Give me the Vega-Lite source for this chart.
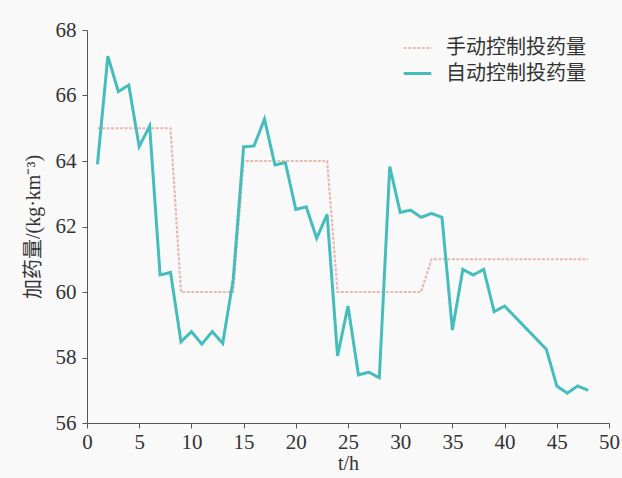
{
  "$schema": "https://vega.github.io/schema/vega-lite/v6.json",
  "autosize": "none",
  "width": 522,
  "height": 393,
  "padding": {"left": 87, "top": 30, "right": 13, "bottom": 55},
  "background": "#f9f9f9",
  "config": {
    "view": {"stroke": null},
    "font": "Liberation Serif"
  },
  "data": {
    "values": [
      {"t": 1, "v": 65, "s": "手动控制投药量"},
      {"t": 8, "v": 65, "s": "手动控制投药量"},
      {"t": 9, "v": 60, "s": "手动控制投药量"},
      {"t": 14, "v": 60, "s": "手动控制投药量"},
      {"t": 15, "v": 64, "s": "手动控制投药量"},
      {"t": 23, "v": 64, "s": "手动控制投药量"},
      {"t": 24, "v": 60, "s": "手动控制投药量"},
      {"t": 32, "v": 60, "s": "手动控制投药量"},
      {"t": 33, "v": 61, "s": "手动控制投药量"},
      {"t": 48, "v": 61, "s": "手动控制投药量"},
      {"t": 1, "v": 63.9, "s": "自动控制投药量"},
      {"t": 2, "v": 67.2, "s": "自动控制投药量"},
      {"t": 3, "v": 66.12, "s": "自动控制投药量"},
      {"t": 4, "v": 66.32, "s": "自动控制投药量"},
      {"t": 5, "v": 64.44, "s": "自动控制投药量"},
      {"t": 6, "v": 65.07, "s": "自动控制投药量"},
      {"t": 7, "v": 60.52, "s": "自动控制投药量"},
      {"t": 8, "v": 60.6, "s": "自动控制投药量"},
      {"t": 9, "v": 58.48, "s": "自动控制投药量"},
      {"t": 10, "v": 58.79, "s": "自动控制投药量"},
      {"t": 11, "v": 58.41, "s": "自动控制投药量"},
      {"t": 12, "v": 58.79, "s": "自动控制投药量"},
      {"t": 13, "v": 58.43, "s": "自动控制投药量"},
      {"t": 14, "v": 60.37, "s": "自动控制投药量"},
      {"t": 15, "v": 64.43, "s": "自动控制投药量"},
      {"t": 16, "v": 64.46, "s": "自动控制投药量"},
      {"t": 17, "v": 65.28, "s": "自动控制投药量"},
      {"t": 18, "v": 63.88, "s": "自动控制投药量"},
      {"t": 19, "v": 63.95, "s": "自动控制投药量"},
      {"t": 20, "v": 62.52, "s": "自动控制投药量"},
      {"t": 21, "v": 62.6, "s": "自动控制投药量"},
      {"t": 22, "v": 61.64, "s": "自动控制投药量"},
      {"t": 23, "v": 62.37, "s": "自动控制投药量"},
      {"t": 24, "v": 58.05, "s": "自动控制投药量"},
      {"t": 25, "v": 59.57, "s": "自动控制投药量"},
      {"t": 26, "v": 57.47, "s": "自动控制投药量"},
      {"t": 27, "v": 57.55, "s": "自动控制投药量"},
      {"t": 28, "v": 57.38, "s": "自动控制投药量"},
      {"t": 29, "v": 63.83, "s": "自动控制投药量"},
      {"t": 30, "v": 62.43, "s": "自动控制投药量"},
      {"t": 31, "v": 62.5, "s": "自动控制投药量"},
      {"t": 32, "v": 62.28, "s": "自动控制投药量"},
      {"t": 33, "v": 62.4, "s": "自动控制投药量"},
      {"t": 34, "v": 62.28, "s": "自动控制投药量"},
      {"t": 35, "v": 58.84, "s": "自动控制投药量"},
      {"t": 36, "v": 60.69, "s": "自动控制投药量"},
      {"t": 37, "v": 60.52, "s": "自动控制投药量"},
      {"t": 38, "v": 60.69, "s": "自动控制投药量"},
      {"t": 39, "v": 59.4, "s": "自动控制投药量"},
      {"t": 40, "v": 59.57, "s": "自动控制投药量"},
      {"t": 44, "v": 58.25, "s": "自动控制投药量"},
      {"t": 45, "v": 57.13, "s": "自动控制投药量"},
      {"t": 46, "v": 56.91, "s": "自动控制投药量"},
      {"t": 47, "v": 57.13, "s": "自动控制投药量"},
      {"t": 48, "v": 57.0, "s": "自动控制投药量"}
    ]
  },
  "mark": {"type": "line", "interpolate": "linear"},
  "encoding": {
    "x": {
      "field": "t", "type": "quantitative",
      "scale": {"domain": [0, 50], "nice": false, "zero": false},
      "axis": {
        "values": [0, 5, 10, 15, 20, 25, 30, 35, 40, 45, 50],
        "title": "t/h",
        "titleFont": "Liberation Serif", "titleFontSize": 20, "titleFontWeight": "normal",
        "titleColor": "#333", "titlePadding": 1,
        "labelFont": "Liberation Serif", "labelFontSize": 21, "labelColor": "#333",
        "labelPadding": 3,
        "grid": false, "domainColor": "#555", "tickColor": "#555", "tickSize": 5,
        "labelFlush": false
      }
    },
    "y": {
      "field": "v", "type": "quantitative",
      "scale": {"domain": [56, 68], "nice": false, "zero": false},
      "axis": {
        "values": [56, 58, 60, 62, 64, 66, 68],
        "title": "加药量/(kg·km⁻³)",
        "titleFont": "Liberation Serif, Noto Sans CJK SC", "titleFontSize": 20, "titleFontWeight": "normal",
        "titleColor": "#333", "titlePadding": 12,
        "labelFont": "Liberation Serif", "labelFontSize": 21, "labelColor": "#333",
        "labelPadding": 6,
        "grid": false, "domainColor": "#555", "tickColor": "#555", "tickSize": 5,
        "labelFlush": false
      }
    },
    "color": {
      "field": "s", "type": "nominal",
      "scale": {"domain": ["手动控制投药量", "自动控制投药量"], "range": ["#e9b8b0", "#45bdbd"]},
      "legend": {
        "title": null, "orient": "none", "legendX": 315, "legendY": 3,
        "symbolType": "stroke", "symbolSize": 760, "symbolStrokeWidth": 3,
        "labelFont": "Noto Sans CJK SC", "labelFontSize": 20, "labelColor": "#333",
        "labelOffset": 13, "rowPadding": 0
      }
    },
    "strokeDash": {
      "field": "s", "type": "nominal",
      "scale": {"domain": ["手动控制投药量", "自动控制投药量"], "range": [[3, 1.5], [1, 0]]},
      "legend": null
    },
    "strokeWidth": {
      "field": "s", "type": "nominal",
      "scale": {"domain": ["手动控制投药量", "自动控制投药量"], "range": [2.2, 3]},
      "legend": null
    }
  }
}
